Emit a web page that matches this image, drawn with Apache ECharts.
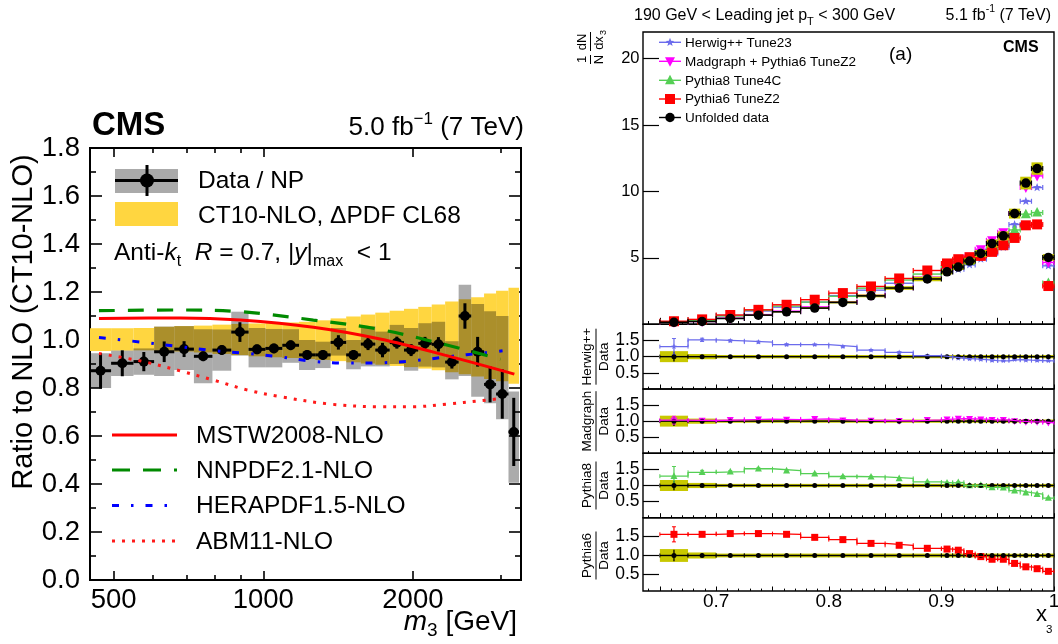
<!DOCTYPE html>
<html>
<head>
<meta charset="utf-8">
<title>CMS three-jet mass and x3 distributions</title>
<script src="https://cdn.jsdelivr.net/npm/echarts@6.0.0/dist/echarts.min.js"></script>
<style>
html, body { margin: 0; padding: 0; background: #fff; }
#chart { width: 1058px; height: 644px; }
</style>
</head>
<body>
<div id="chart"></div>
<script>
// ---------- Left panel: data / NP and PDF sets relative to CT10-NLO, vs m3 ----------
const m3Edges = [448, 494, 548, 603, 662, 725, 790, 862, 934, 1010, 1092, 1180, 1272, 1366, 1468, 1571, 1680, 1796, 1919, 2050, 2182, 2322, 2472, 2620, 2781, 2940, 3114, 3270];
const m3Ratio = [0.872, 0.903, 0.910, 0.951, 0.962, 0.932, 0.958, 1.033, 0.961, 0.965, 0.978, 0.938, 0.938, 0.990, 0.938, 0.983, 0.958, 0.989, 0.958, 0.986, 0.982, 0.908, 1.100, 0.951, 0.815, 0.775, 0.617];
const m3Stat = [0.074, 0.054, 0.040, 0.043, 0.033, 0.020, 0.020, 0.041, 0.020, 0.020, 0.020, 0.020, 0.020, 0.030, 0.020, 0.025, 0.030, 0.025, 0.025, 0.027, 0.030, 0.027, 0.053, 0.062, 0.075, 0.103, 0.142];
const m3TotLo = [0.800, 0.850, 0.855, 0.850, 0.875, 0.820, 0.872, 0.935, 0.886, 0.886, 0.905, 0.875, 0.883, 0.935, 0.878, 0.890, 0.890, 0.900, 0.872, 0.889, 0.886, 0.836, 0.850, 0.764, 0.736, 0.670, 0.405];
const m3TotHi = [0.945, 0.956, 0.965, 1.056, 1.058, 1.045, 1.044, 1.118, 1.050, 1.046, 1.045, 1.000, 0.993, 1.050, 1.000, 1.057, 1.035, 1.063, 1.050, 1.070, 1.076, 0.995, 1.230, 1.150, 1.120, 1.100, 0.785];
const ct10Lo = [0.954, 0.956, 0.957, 0.955, 0.952, 0.948, 0.942, 0.937, 0.932, 0.928, 0.925, 0.921, 0.917, 0.912, 0.907, 0.902, 0.897, 0.892, 0.887, 0.881, 0.874, 0.866, 0.857, 0.848, 0.838, 0.828, 0.818];
const ct10Hi = [1.049, 1.049, 1.050, 1.055, 1.058, 1.060, 1.064, 1.067, 1.069, 1.071, 1.073, 1.076, 1.082, 1.090, 1.098, 1.106, 1.114, 1.122, 1.130, 1.138, 1.148, 1.160, 1.170, 1.178, 1.194, 1.205, 1.218];

const mstwM = [467, 681, 899, 1261, 1717, 2340, 3200];
const mstwV = [1.090, 1.092, 1.083, 1.053, 1.004, 0.935, 0.858];
const nnpdfM = [467, 681, 899, 1261, 1717, 2340, 3000];
const nnpdfV = [1.122, 1.125, 1.118, 1.083, 1.044, 0.979, 0.920];
const heraM = [467, 575, 680, 800, 930, 1080, 1250, 1460, 1720, 2020, 2350, 2800, 3030];
const heraV = [1.010, 0.990, 0.972, 0.955, 0.944, 0.930, 0.912, 0.904, 0.905, 0.914, 0.930, 0.947, 0.955];
const abmM = [467, 574, 681, 794, 927, 1081, 1364, 1717, 2004, 2340, 2734, 3030];
const abmV = [0.944, 0.910, 0.871, 0.833, 0.792, 0.764, 0.733, 0.722, 0.722, 0.733, 0.747, 0.757];

const m3MajorTicks = [500, 1000, 2000];
const m3MinorTicks = [600, 700, 800, 900, 3000];

// ---------- Right panel: x3 distribution, 190 < leading jet pT < 300 GeV ----------
const x3Edges = [0.65, 0.675, 0.70, 0.725, 0.75, 0.775, 0.80, 0.825, 0.85, 0.875, 0.90, 0.91, 0.92, 0.93, 0.94, 0.95, 0.96, 0.97, 0.98, 0.99, 1.00];
const x3Data = [0.15, 0.21, 0.44, 0.69, 0.94, 1.22, 1.65, 2.14, 2.73, 3.41, 3.95, 4.31, 4.76, 5.33, 6.08, 6.66, 8.33, 10.63, 11.72, 5.03];
const x3DataSys = [0.17, 0.08, 0.05, 0.05, 0.05, 0.05, 0.05, 0.05, 0.05, 0.05, 0.05, 0.05, 0.05, 0.05, 0.05, 0.05, 0.045, 0.045, 0.04, 0.05];
const x3DataStat = [0.15, 0.05, 0.02, 0.02, 0.015, 0.015, 0.015, 0.015, 0.015, 0.015, 0.015, 0.015, 0.015, 0.015, 0.015, 0.015, 0.015, 0.015, 0.015, 0.02];

const herwigTop = [0.20, 0.32, 0.66, 1.00, 1.29, 1.67, 2.16, 2.57, 3.09, 3.51, 3.91, 4.14, 4.47, 4.90, 5.35, 5.80, 7.51, 9.26, 10.29, 4.40];
const madgraphTop = [0.16, 0.21, 0.46, 0.73, 0.99, 1.31, 1.70, 2.18, 2.76, 3.55, 4.19, 4.65, 5.09, 5.65, 6.32, 6.93, 8.33, 10.30, 11.17, 4.65];
const pythia8Top = [0.19, 0.30, 0.63, 1.05, 1.37, 1.67, 2.11, 2.72, 3.33, 3.78, 4.27, 4.74, 4.76, 5.38, 5.72, 6.19, 7.10, 8.29, 8.41, 3.10];
const pythia6Top = [0.23, 0.37, 0.70, 1.09, 1.47, 1.85, 2.35, 2.85, 3.45, 4.05, 4.58, 4.90, 5.05, 5.15, 5.45, 5.95, 6.50, 7.45, 7.52, 2.88];

const herwigRatio = [1.31, 1.52, 1.49, 1.45, 1.37, 1.37, 1.31, 1.20, 1.13, 1.03, 0.99, 0.95, 0.93, 0.91, 0.88, 0.87, 0.91, 0.89, 0.88, 0.87];
const madgraphRatio = [1.03, 1.02, 1.04, 1.06, 1.05, 1.07, 1.03, 1.02, 1.01, 1.04, 1.06, 1.08, 1.07, 1.06, 1.04, 1.04, 1.00, 0.98, 0.98, 0.95];
const pythia8Ratio = [1.29, 1.41, 1.43, 1.52, 1.46, 1.37, 1.28, 1.27, 1.22, 1.11, 1.08, 1.10, 1.00, 1.01, 0.94, 0.93, 0.84, 0.78, 0.73, 0.61];
const pythia6Ratio = [1.56, 1.56, 1.58, 1.58, 1.56, 1.48, 1.42, 1.32, 1.27, 1.19, 1.17, 1.14, 1.05, 0.97, 0.90, 0.90, 0.79, 0.70, 0.65, 0.58];

const herwigRatioErr = [0.25, 0.05, 0.03, 0.03, 0.03, 0.02, 0.02, 0.02, 0.02, 0.02, 0.02, 0.02, 0.02, 0.02, 0.02, 0.02, 0.02, 0.02, 0.02, 0.02];
const madgraphRatioErr = [0.12, 0.04, 0.02, 0.02, 0.02, 0.02, 0.02, 0.02, 0.02, 0.02, 0.02, 0.02, 0.02, 0.02, 0.02, 0.02, 0.02, 0.02, 0.02, 0.02];
const pythia8RatioErr = [0.30, 0.06, 0.03, 0.03, 0.02, 0.02, 0.02, 0.02, 0.02, 0.02, 0.02, 0.02, 0.02, 0.02, 0.02, 0.02, 0.02, 0.02, 0.02, 0.02];
const pythia6RatioErr = [0.20, 0.05, 0.03, 0.02, 0.02, 0.02, 0.02, 0.02, 0.02, 0.02, 0.02, 0.02, 0.02, 0.02, 0.02, 0.02, 0.02, 0.02, 0.02, 0.02];

const x3Labels = [0.7, 0.8, 0.9, 1];
const topYTicks = [5, 10, 15, 20];
const ratioOuterTicks = [0.5, 1.5];
const ratioUnitTick = [1.0];

// ---------- drawing helpers ----------
const FONT = '"Liberation Sans", Arial, Helvetica, sans-serif';
const C_HERWIG = '#6b6bec', C_MADGRAPH = '#ff00ff', C_PY8 = '#55cf55', C_PY6 = '#ff0000';
const YELLOW_PDF = '#ffd640', YELLOW_SYS = '#c8c800';

const seg = (x1, y1, x2, y2, stroke, lw) => ({ type: 'line', shape: { x1, y1, x2, y2 }, style: { stroke, lineWidth: lw } });

function boxItem(api, x0, x1, y0, y1, fill) {
  const a = api.coord([x0, y1]), b = api.coord([x1, y0]);
  return { type: 'rect', shape: { x: a[0], y: a[1], width: b[0] - a[0], height: b[1] - a[1] }, style: { fill } };
}

function markerShape(kind, x, y, s, color) {
  const h = s / 2;
  if (kind === 'circle') return { type: 'circle', shape: { cx: x, cy: y, r: h }, style: { fill: color } };
  if (kind === 'square') return { type: 'rect', shape: { x: x - h, y: y - h, width: s, height: s }, style: { fill: color } };
  if (kind === 'up') return { type: 'polygon', shape: { points: [[x, y - h * 1.1], [x + h, y + h * 0.8], [x - h, y + h * 0.8]] }, style: { fill: color } };
  if (kind === 'down') return { type: 'polygon', shape: { points: [[x, y + h * 1.1], [x + h, y - h * 0.8], [x - h, y - h * 0.8]] }, style: { fill: color } };
  const pts = [];
  for (let k = 0; k < 10; k++) {
    const r = k % 2 ? h * 0.42 : h;
    const a = -Math.PI / 2 + k * Math.PI / 5;
    pts.push([x + r * Math.cos(a), y + r * Math.sin(a)]);
  }
  return { type: 'polygon', shape: { points: pts }, style: { fill: color } };
}

const zip = (xs, ys) => xs.map((x, i) => [x, ys[i]]);

// ---------- axes ----------
const M3_MIN = 448, M3_MAX = 3300;
const keepAll = { hideOverlap: false, showMinLabel: true, showMaxLabel: true };
function m3Axis(position, ticks, len, withLabels) {
  return {
    type: 'log', gridIndex: 0, position, min: M3_MIN, max: M3_MAX,
    axisLine: { show: false }, splitLine: { show: false }, minorTick: { show: false },
    axisTick: { show: true, inside: true, length: len, customValues: ticks, lineStyle: { color: '#000', width: 1.6 } },
    axisLabel: withLabels
      ? Object.assign({ show: true, customValues: ticks, formatter: v => String(Math.round(v)), fontSize: 27.5, fontFamily: FONT, color: '#000', margin: 6 }, keepAll)
      : { show: false }
  };
}
function ratioYAxisLeft(position, labels) {
  return {
    type: 'value', gridIndex: 0, position, min: 0, max: 1.8, interval: 0.2,
    axisLine: { show: false }, splitLine: { show: false },
    axisTick: { show: true, inside: true, length: 12, lineStyle: { color: '#000', width: 1.6 } },
    minorTick: { show: true, splitNumber: 2, length: 6, lineStyle: { color: '#000', width: 1.6 } },
    axisLabel: labels ? Object.assign({ show: true, formatter: v => v.toFixed(1), fontSize: 27.5, fontFamily: FONT, color: '#000', margin: 10 }, keepAll) : { show: false }
  };
}

const x3Major = [], x3Minor = [];
for (let k = 64; k <= 100; k++) (k % 5 === 0 ? x3Major : x3Minor).push(k / 100);

function x3Axis(grid, ticks, len, withLabels) {
  return {
    type: 'value', gridIndex: grid, position: 'bottom', min: 0.635, max: 1.0,
    axisLine: { show: false }, splitLine: { show: false },
    axisTick: { show: true, inside: true, length: len, customValues: ticks, lineStyle: { color: '#000', width: 1 } },
    axisLabel: withLabels
      ? Object.assign({ show: true, customValues: x3Labels, formatter: v => (v === 1 ? '1' : v.toFixed(1)), fontSize: 19, fontFamily: FONT, color: '#000', margin: 1 }, keepAll)
      : { show: false }
  };
}
function rightYAxis(grid, min, max, ticks, fontSize, fmt) {
  return {
    type: 'value', gridIndex: grid, position: 'left', min, max,
    axisLine: { show: false }, splitLine: { show: false },
    axisTick: { show: true, inside: true, length: 16, customValues: ticks, lineStyle: { color: '#000', width: 1.2 } },
    axisLabel: Object.assign({ show: true, customValues: ticks, formatter: fmt, fontSize, lineHeight: 12, fontFamily: FONT, color: '#000',
                 margin: 3.5 }, keepAll)
  };
}

const grids = [
  { left: 90, top: 148, width: 431, height: 432, borderWidth: 2 },
  { left: 643, top: 32, width: 411, height: 292.3, borderWidth: 1.4 },
  { left: 643, top: 324.3, width: 411, height: 64.7, borderWidth: 1.4 },
  { left: 643, top: 389, width: 411, height: 64.3, borderWidth: 1.4 },
  { left: 643, top: 453.3, width: 411, height: 64.4, borderWidth: 1.4 },
  { left: 643, top: 517.7, width: 411, height: 73.3, borderWidth: 1.4 }
].map(g => Object.assign({ show: true, borderColor: '#000', backgroundColor: 'transparent', containLabel: false, outerBoundsMode: 'none' }, g));

const xAxes = [
  m3Axis('bottom', m3MajorTicks, 9, true),
  m3Axis('bottom', m3MinorTicks, 5, false),
  m3Axis('top', m3MajorTicks, 9, false),
  m3Axis('top', m3MinorTicks, 5, false)
];
for (let g = 1; g <= 5; g++) {
  const big = g === 1;
  xAxes.push(x3Axis(g, x3Major, big ? 6.5 : 4.5, g === 5));
  xAxes.push(x3Axis(g, x3Minor, big ? 3.3 : 2.4, false));
}
const fmtRatio = v => v.toFixed(1);
const ratioRange = [[0, 2], [0, 2], [0, 2], [0.06, 2]];
const yAxes = [
  ratioYAxisLeft('left', true),
  ratioYAxisLeft('right', false),
  rightYAxis(1, 0, 22, topYTicks, 16.5, v => String(v))
];
// ratio panels: 0.5 / 1.5 on one axis, 1.0 on a twin axis so that close labels all stay visible
ratioRange.forEach(([lo, hi], k) => yAxes.push(rightYAxis(2 + k, lo, hi, ratioOuterTicks, 17.5, fmtRatio)));
ratioRange.forEach(([lo, hi], k) => yAxes.push(rightYAxis(2 + k, lo, hi, ratioUnitTick, 17.5, fmtRatio)));

// ---------- left-panel series ----------
const m3Rows = m3Ratio.map((v, i) => [m3Edges[i], m3Edges[i + 1], v, m3Stat[i], m3TotLo[i], m3TotHi[i], ct10Lo[i], ct10Hi[i]]);
const leftSeries = [
  { type: 'custom', name: 'CT10-NLO', xAxisIndex: 0, yAxisIndex: 0, data: m3Rows, encode: { x: [0, 1], y: [6, 7] }, silent: true,
    renderItem: (p, api) => boxItem(api, api.value(0), api.value(1), api.value(6), api.value(7), YELLOW_PDF) },
  { type: 'custom', name: 'Data / NP total', xAxisIndex: 0, yAxisIndex: 0, data: m3Rows, encode: { x: [0, 1], y: [4, 5] }, silent: true,
    renderItem: (p, api) => boxItem(api, api.value(0), api.value(1), api.value(4), api.value(5), 'rgba(0,0,0,0.33)') },
  { type: 'line', name: 'ABM11-NLO', xAxisIndex: 0, yAxisIndex: 0, data: zip(abmM, abmV), smooth: 0.35, symbol: 'none', silent: true,
    lineStyle: { color: '#ff1a1a', width: 3, type: [3, 7] } },
  { type: 'line', name: 'HERAPDF1.5-NLO', xAxisIndex: 0, yAxisIndex: 0, data: zip(heraM, heraV), smooth: 0.35, symbol: 'none', silent: true,
    lineStyle: { color: '#0000ff', width: 3, type: [7, 12, 2.5, 12] } },
  { type: 'line', name: 'NNPDF2.1-NLO', xAxisIndex: 0, yAxisIndex: 0, data: zip(nnpdfM, nnpdfV), smooth: 0.35, symbol: 'none', silent: true,
    lineStyle: { color: '#008a00', width: 3.2, type: [16, 13] } },
  { type: 'line', name: 'MSTW2008-NLO', xAxisIndex: 0, yAxisIndex: 0, data: zip(mstwM, mstwV), smooth: 0.35, symbol: 'none', silent: true,
    lineStyle: { color: '#ff0000', width: 3 } },
  { type: 'custom', name: 'Data / NP', xAxisIndex: 0, yAxisIndex: 0, data: m3Rows, encode: { x: [0, 1], y: 2 }, silent: true,
    renderItem: (p, api) => {
      const lo = api.value(0), hi = api.value(1), v = api.value(2), e = api.value(3);
      const xc = Math.sqrt(lo * hi);
      const a = api.coord([lo, v]), b = api.coord([hi, v]), c = api.coord([xc, v]);
      const t = api.coord([xc, v + e]), d = api.coord([xc, v - e]);
      return { type: 'group', children: [
        seg(a[0], a[1], b[0], b[1], '#000', 3),
        seg(t[0], t[1], d[0], d[1], '#000', 3),
        markerShape('circle', c[0], c[1], 10, '#000')
      ] };
    } }
];

// ---------- right-panel series ----------
function topMcSeries(vals, kind, color, size) {
  return { type: 'custom', xAxisIndex: 4, yAxisIndex: 2, silent: true,
    data: vals.map((v, i) => [x3Edges[i], x3Edges[i + 1], v]), encode: { x: [0, 1], y: 2 },
    renderItem: (p, api) => {
      const lo = api.value(0), hi = api.value(1), v = api.value(2);
      const a = api.coord([lo, v]), b = api.coord([hi, v]), c = api.coord([(lo + hi) / 2, v]);
      return { type: 'group', children: [
        seg(a[0], a[1], b[0], b[1], color, 1.4),
        seg(a[0], a[1] - 2.5, a[0], a[1] + 2.5, color, 1.2),
        seg(b[0], b[1] - 2.5, b[0], b[1] + 2.5, color, 1.2),
        markerShape(kind, c[0], c[1], size, color)
      ] };
    } };
}
const topDataSeries = { type: 'custom', xAxisIndex: 4, yAxisIndex: 2, silent: true,
  data: x3Data.map((v, i) => [x3Edges[i], x3Edges[i + 1], v, x3DataSys[i]]), encode: { x: [0, 1], y: 2 },
  renderItem: (p, api) => {
    const lo = api.value(0), hi = api.value(1), v = api.value(2), s = api.value(3);
    const a = api.coord([lo, v]), b = api.coord([hi, v]), c = api.coord([(lo + hi) / 2, v]);
    return { type: 'group', children: [
      boxItem(api, lo, hi, v * (1 - s), v * (1 + s), YELLOW_SYS),
      seg(a[0], a[1], b[0], b[1], '#000', 1.6),
      seg(a[0], a[1] - 2.5, a[0], a[1] + 2.5, '#000', 1.2),
      seg(b[0], b[1] - 2.5, b[0], b[1] + 2.5, '#000', 1.2),
      markerShape('circle', c[0], c[1], 9.5, '#000')
    ] };
  } };

function ratioSeries(panel, ratio, err, kind, color, size) {
  const xi = 6 + 2 * panel, yi = 3 + panel;
  const rows = ratio.map((v, i) => [x3Edges[i], x3Edges[i + 1], v, err[i], x3DataSys[i], x3DataStat[i]]);
  const steps = [];
  ratio.forEach((v, i) => { steps.push([x3Edges[i], v], [x3Edges[i + 1], v]); });
  return [
    // data divided by itself: systematic band, bin line and statistical bar at unity
    { type: 'custom', xAxisIndex: xi, yAxisIndex: yi, data: rows, encode: { x: [0, 1], y: 2 }, silent: true,
      renderItem: (p, api) => {
        const lo = api.value(0), hi = api.value(1), s = api.value(4), st = api.value(5), xc = (lo + hi) / 2;
        const a = api.coord([lo, 1]), b = api.coord([hi, 1]), t = api.coord([xc, 1 + st]), d = api.coord([xc, 1 - st]);
        return { type: 'group', children: [
          boxItem(api, lo, hi, 1 - s, 1 + s, YELLOW_SYS),
          seg(a[0], a[1], b[0], b[1], '#000', 1.4),
          seg(a[0], a[1] - 2, a[0], a[1] + 2, '#000', 1),
          seg(b[0], b[1] - 2, b[0], b[1] + 2, '#000', 1),
          seg(t[0], t[1], d[0], d[1], '#000', 1.3)
        ] };
      } },
    { type: 'line', xAxisIndex: xi, yAxisIndex: yi, data: steps, symbol: 'none', silent: true,
      lineStyle: { color, width: 1.3 } },
    { type: 'custom', xAxisIndex: xi, yAxisIndex: yi, data: rows, encode: { x: [0, 1], y: 2 }, silent: true,
      renderItem: (p, api) => {
        const lo = api.value(0), hi = api.value(1), v = api.value(2), e = api.value(3), xc = (lo + hi) / 2;
        const a = api.coord([lo, v]), b = api.coord([hi, v]), c = api.coord([xc, v]);
        const t = api.coord([xc, v + e]), d = api.coord([xc, v - e]);
        return { type: 'group', children: [
          seg(a[0], a[1] - 2, a[0], a[1] + 2, color, 1),
          seg(b[0], b[1] - 2, b[0], b[1] + 2, color, 1),
          seg(t[0], t[1], d[0], d[1], color, 1.2),
          seg(t[0] - 2, t[1], t[0] + 2, t[1], color, 1),
          seg(d[0] - 2, d[1], d[0] + 2, d[1], color, 1),
          markerShape(kind, c[0], c[1], size, color)
        ] };
      } },
    { type: 'custom', xAxisIndex: xi, yAxisIndex: yi, data: rows, encode: { x: [0, 1], y: 2 }, silent: true,
      renderItem: (p, api) => {
        const c = api.coord([(api.value(0) + api.value(1)) / 2, 1]);
        return markerShape('circle', c[0], c[1], 5, '#000');
      } }
  ];
}

const rightSeries = [
  topMcSeries(herwigTop, 'star', C_HERWIG, 9),
  topMcSeries(madgraphTop, 'down', C_MADGRAPH, 10),
  topMcSeries(pythia8Top, 'up', C_PY8, 10),
  topMcSeries(pythia6Top, 'square', C_PY6, 10),
  topDataSeries,
  ...ratioSeries(0, herwigRatio, herwigRatioErr, 'star', C_HERWIG, 6),
  ...ratioSeries(1, madgraphRatio, madgraphRatioErr, 'down', C_MADGRAPH, 7),
  ...ratioSeries(2, pythia8Ratio, pythia8RatioErr, 'up', C_PY8, 7),
  ...ratioSeries(3, pythia6Ratio, pythia6RatioErr, 'square', C_PY6, 7)
];

// ---------- text and legends ----------
const txt = (x, y, text, opt, rotation) => ({ type: 'text', x, y, rotation: rotation || 0, silent: true,
  style: Object.assign({ text, fontFamily: FONT, fill: '#000', align: 'left', verticalAlign: 'middle' }, opt) });
const gLine = (x1, y1, x2, y2, stroke, lw, dash) => ({ type: 'line', silent: true, shape: { x1, y1, x2, y2 },
  style: { stroke, lineWidth: lw, lineDash: dash || null } });

const graphics = [
  // left panel header
  txt(92, 126, 'CMS', { fontSize: 33, fontWeight: 'bold' }),
  txt(524, 128, '{n|5.0 fb}{p|\u22121}{n| (7 TeV)}', { align: 'right',
    rich: { n: { fontSize: 26, fontFamily: FONT, lineHeight: 34, verticalAlign: 'middle' },
            p: { fontSize: 17, fontFamily: FONT, lineHeight: 17, verticalAlign: 'top' } } }),
  // left axis titles
  txt(24, 322, 'Ratio to NLO (CT10-NLO)', { fontSize: 29, align: 'center' }, Math.PI / 2),
  txt(517, 622, '{i|m}{s|3}{n| [GeV]}', { align: 'right',
    rich: { i: { fontSize: 28, fontFamily: FONT, fontStyle: 'italic', lineHeight: 36, verticalAlign: 'middle' },
            s: { fontSize: 19, fontFamily: FONT, lineHeight: 16, verticalAlign: 'bottom' },
            n: { fontSize: 28, fontFamily: FONT, lineHeight: 36, verticalAlign: 'middle' } } }),
  // left legend (upper)
  { type: 'rect', silent: true, shape: { x: 115, y: 169, width: 63, height: 24 }, style: { fill: '#aaaaaa' } },
  gLine(115, 180.5, 178, 180.5, '#000', 3),
  gLine(147, 165, 147, 196, '#000', 3),
  { type: 'circle', silent: true, shape: { cx: 147, cy: 180.5, r: 7 }, style: { fill: '#000' } },
  txt(198, 181, 'Data / NP', { fontSize: 24.5 }),
  { type: 'rect', silent: true, shape: { x: 115, y: 202, width: 63, height: 24 }, style: { fill: YELLOW_PDF } },
  txt(198, 216.5, 'CT10-NLO, \u0394PDF CL68', { fontSize: 24.5 }),
  txt(114, 253, '{n|Anti-}{i|k}{s|t}{n|  }{i|R}{n| = 0.7, |}{i|y}{n||}{s|max}{n|  < 1}', {
    rich: { n: { fontSize: 24.5, fontFamily: FONT, lineHeight: 34, verticalAlign: 'middle' },
            i: { fontSize: 24.5, fontFamily: FONT, fontStyle: 'italic', lineHeight: 34, verticalAlign: 'middle' },
            s: { fontSize: 16, fontFamily: FONT, lineHeight: 15, verticalAlign: 'bottom' } } }),
  // left legend (lower)
  gLine(112, 435, 177, 435, '#ff0000', 3),
  txt(196, 436, 'MSTW2008-NLO', { fontSize: 24.5 }),
  gLine(112, 470, 177, 470, '#008a00', 3.2, [18, 13]),
  txt(196, 471, 'NNPDF2.1-NLO', { fontSize: 24.5 }),
  gLine(112, 505.5, 177, 505.5, '#0000ff', 3, [7, 12, 2.5, 12]),
  txt(196, 506.5, 'HERAPDF1.5-NLO', { fontSize: 24.5 }),
  gLine(112, 541, 177, 541, '#ff1a1a', 3, [3, 7]),
  txt(196, 542, 'ABM11-NLO', { fontSize: 24.5 }),

  // right panel header
  txt(634, 16, '{n|190 GeV < Leading jet p}{s|T}{n| < 300 GeV}', {
    rich: { n: { fontSize: 16, fontFamily: FONT, lineHeight: 22, verticalAlign: 'middle' },
            s: { fontSize: 11, fontFamily: FONT, lineHeight: 10, verticalAlign: 'bottom' } } }),
  txt(1051, 16, '{n|5.1 fb}{p|-1}{n| (7 TeV)}', { align: 'right',
    rich: { n: { fontSize: 16, fontFamily: FONT, lineHeight: 24, verticalAlign: 'middle' },
            p: { fontSize: 10.5, fontFamily: FONT, lineHeight: 10, verticalAlign: 'top' } } }),
  txt(889, 54.5, '(a)', { fontSize: 19 }),
  txt(1003, 47.5, 'CMS', { fontSize: 16, fontWeight: 'bold' }),
  // x3 axis title
  txt(1036, 615, 'x', { fontSize: 22 }),
  txt(1046, 630, '3', { fontSize: 11.5 }),
  // top-panel y title: (1/N) dN/dx3, read bottom to top
  { type: 'group', x: 590, y: 48, rotation: Math.PI / 2, silent: true, children: [
      txt(-11.5, -8, '1', { fontSize: 13, align: 'center' }),
      txt(-11.5, 9, 'N', { fontSize: 13, align: 'center' }),
      gLine(-16, 0.5, -7, 0.5, '#000', 1),
      txt(6, -8, 'dN', { fontSize: 13, align: 'center' }),
      txt(5, 9, 'dx', { fontSize: 13, align: 'center' }),
      txt(13, 14, '3', { fontSize: 9, align: 'left' }),
      gLine(-3, 0.5, 16, 0.5, '#000', 1)
  ] }
];

// ratio-panel titles: generator / Data
[['Herwig++', 356.7, 56], ['Madgraph', 421.2, 60], ['Pythia8', 485.5, 48], ['Pythia6', 555.5, 48]].forEach(([name, cy, w]) => {
  graphics.push({ type: 'group', x: 596, y: cy, rotation: Math.PI / 2, silent: true, children: [
    txt(0, -8.5, name, { fontSize: 13.5, align: 'center' }),
    gLine(-w / 2, 0, w / 2, 0, '#000', 1),
    txt(0, 8, 'Data', { fontSize: 13.5, align: 'center' })
  ] });
});

// right-panel legend
const legendRows = [
  ['Herwig++ Tune23', C_HERWIG, 'star', 9, 42.3],
  ['Madgraph + Pythia6 TuneZ2', C_MADGRAPH, 'down', 10, 61.3],
  ['Pythia8 Tune4C', C_PY8, 'up', 10, 80.3],
  ['Pythia6 TuneZ2', C_PY6, 'square', 10, 99],
  ['Unfolded data', '#000', 'circle', 9.5, 117.5]
];
legendRows.forEach(([label, color, kind, size, y]) => {
  graphics.push(gLine(659, y, 681, y, color, 1.4));
  graphics.push(Object.assign(markerShape(kind, 670, y, size, color), { silent: true }));
  graphics.push(txt(685, y + 0.5, label, { fontSize: 13.5 }));
});

const chart = echarts.init(document.getElementById('chart'), null, { renderer: 'canvas', width: 1058, height: 644 });
chart.setOption({
  animation: false,
  backgroundColor: '#fff',
  textStyle: { fontFamily: FONT },
  grid: grids,
  xAxis: xAxes,
  yAxis: yAxes,
  series: [...leftSeries, ...rightSeries],
  graphic: graphics
});
</script>
</body>
</html>
